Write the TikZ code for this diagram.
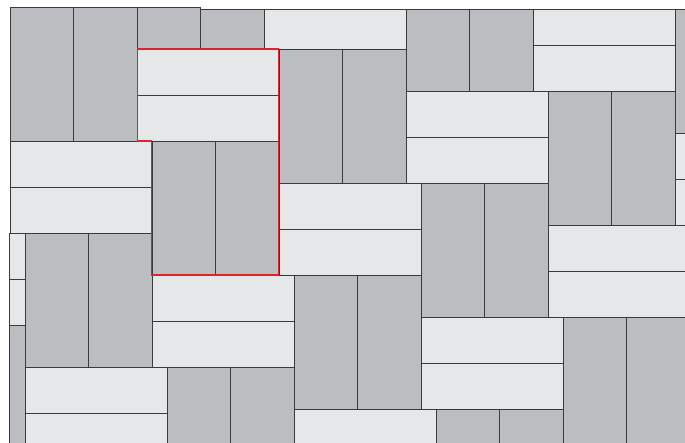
\documentclass[tikz,border=0pt]{standalone}
\definecolor{dk}{HTML}{BCBDC0}
\definecolor{lt}{HTML}{E6E7E9}
\definecolor{ed}{HTML}{3A3A3A}
\definecolor{rd}{HTML}{E3212B}
\tikzset{
  darkbrick/.style={fill=dk,draw=ed,line width=0.9pt},
  lightbrick/.style={fill=lt,draw=ed,line width=0.9pt},
  redline/.style={draw=rd,line width=1.5pt,line join=miter}
}
% draw one brick, cut at the left edge (x=9.5) and top edge
\newcommand{\tilebox}[5]{%
  \pgfmathsetmacro{\tbxa}{max(#1,9.5)}%
  \pgfmathsetmacro{\tbymn}{(\tbxa<199) ? 7 : 9.5}%
  \pgfmathsetmacro{\tbya}{max(#2,\tbymn)}%
  \pgfmathsetmacro{\tbxb}{#3}%
  \pgfmathsetmacro{\tbyb}{#4}%
  \pgfmathtruncatemacro{\tbok}{((\tbxa<\tbxb-0.5) && (\tbya<\tbyb-0.5) && (\tbxa<690) && (\tbya<450)) ? 1 : 0}%
  \ifnum\tbok=1 \path[#5] (\tbxa,\tbya) rectangle (\tbxb,\tbyb);\fi}
\begin{document}
\begin{tikzpicture}[x=1pt,y=-1pt]
\useasboundingbox (0,0) rectangle (685,443);
\fill[white] (0,0) rectangle (685,443);
\begin{scope}
\clip (0,0) rectangle (685,443);
\foreach \i in {-3,...,4}{
  \foreach \j in {-4,...,4}{
    \pgfmathsetmacro{\ox}{137+142*\i-127*\j}
    \pgfmathsetmacro{\oy}{49+134*\i+92*\j}
    % horizontal pair (light)
    \tilebox{\ox}{\oy}{\ox+142}{\oy+46}{lightbrick}
    \tilebox{\ox}{\oy+46}{\ox+142}{\oy+92}{lightbrick}
    % vertical pair (dark)
    \tilebox{\ox+15}{\oy+92}{\ox+78.5}{\oy+226}{darkbrick}
    \tilebox{\ox+78.5}{\oy+92}{\ox+142}{\oy+226}{darkbrick}
  }
}
\end{scope}
\draw[redline] (137.5,49) -- (278.5,49) -- (278.5,275) -- (151.5,275) -- (151.5,141) -- (137.5,141) -- cycle;
\end{tikzpicture}
\end{document}
